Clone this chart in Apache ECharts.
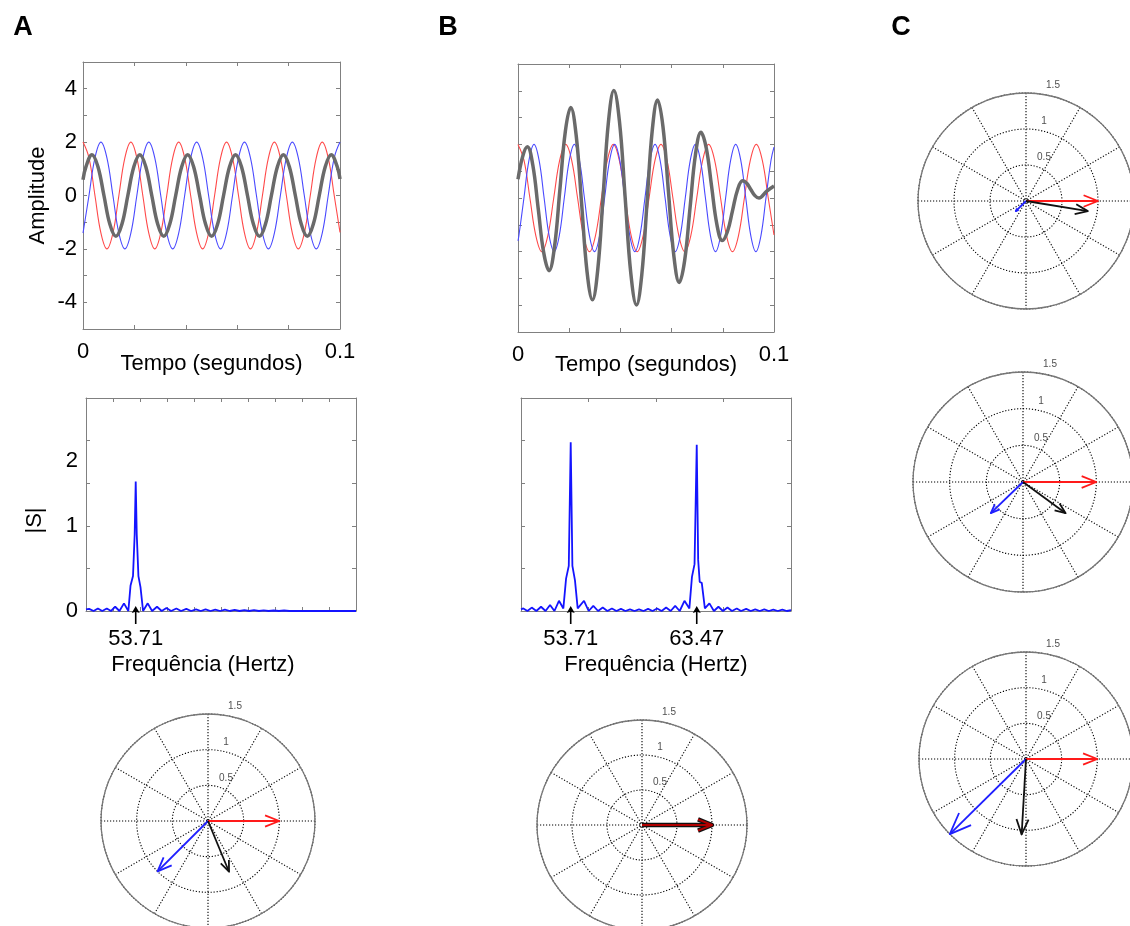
<!DOCTYPE html>
<html>
<head>
<meta charset="utf-8">
<script src="https://cdn.jsdelivr.net/npm/echarts@6/dist/echarts.min.js"></script>
<style>
    html, body { margin: 0; padding: 0; background: #fff; }
    #main { width: 1130px; height: 926px; }
</style>
</head>
<body>
<div id="main"></div>
<script>
    // ---- sinais no tempo (s) e amplitudes ----
    var t53 = [0, 0.00233, 0.00465, 0.00698, 0.00931, 0.01164, 0.01396, 0.01629, 0.01862, 0.02095, 0.02327,
        0.02560, 0.02793, 0.03025, 0.03258, 0.03491, 0.03724, 0.03956, 0.04189, 0.04422, 0.04655, 0.04887,
        0.05120, 0.05353, 0.05586, 0.05818, 0.06051, 0.06284, 0.06516, 0.06749, 0.06982, 0.07215, 0.07447,
        0.07680, 0.07913, 0.08146, 0.08378, 0.08611, 0.08844, 0.09076, 0.09309, 0.09542, 0.09775, 0.1];
    var vRed = [2, 1.41, 0, -1.41, -2, -1.41, 0, 1.41, 2, 1.41, 0, -1.41, -2, -1.41, 0, 1.41,
        2, 1.41, 0, -1.41, -2, -1.41, 0, 1.41, 2, 1.41, 0, -1.41, -2, -1.41, 0, 1.41,
        2, 1.41, 0, -1.41, -2, -1.41, 0, 1.41, 2, 1.41, 0, -1.38];
    var vBlueA = [-1.41, 0, 1.41, 2, 1.41, 0, -1.41, -2, -1.41, 0, 1.41, 2, 1.41, 0, -1.41, -2,
        -1.41, 0, 1.41, 2, 1.41, 0, -1.41, -2, -1.41, 0, 1.41, 2, 1.41, 0, -1.41, -2,
        -1.41, 0, 1.41, 2, 1.41, 0, -1.41, -2, -1.41, 0, 1.41, 2];
    var tGrayA = [0, 0.00116, 0.00349, 0.00582, 0.00815, 0.01047, 0.01280, 0.01513, 0.01745, 0.01978, 0.02211,
        0.02444, 0.02676, 0.02909, 0.03142, 0.03374, 0.03607, 0.03840, 0.04073, 0.04305, 0.04538, 0.04771,
        0.05004, 0.05236, 0.05469, 0.05702, 0.05935, 0.06167, 0.06400, 0.06633, 0.06866, 0.07098, 0.07331,
        0.07564, 0.07797, 0.08029, 0.08262, 0.08495, 0.08728, 0.08960, 0.09193, 0.09426, 0.09659, 0.09891, 0.1];
    var vGrayA = [0.59, 1.08, 1.53, 1.08, 0, -1.08, -1.53, -1.08, 0, 1.08, 1.53, 1.08, 0, -1.08, -1.53, -1.08, 0,
        1.08, 1.53, 1.08, 0, -1.08, -1.53, -1.08, 0, 1.08, 1.53, 1.08, 0, -1.08, -1.53, -1.08, 0,
        1.08, 1.53, 1.08, 0, -1.08, -1.53, -1.08, 0, 1.08, 1.53, 1.08, 0.62];
    var tBlueB = [0, 0.00035, 0.00232, 0.00429, 0.00626, 0.00823, 0.01020, 0.01217, 0.01414, 0.01611, 0.01808,
        0.02005, 0.02202, 0.02399, 0.02595, 0.02792, 0.02989, 0.03186, 0.03383, 0.03580, 0.03777, 0.03974,
        0.04171, 0.04368, 0.04565, 0.04762, 0.04959, 0.05156, 0.05353, 0.05550, 0.05746, 0.05943, 0.06140,
        0.06337, 0.06534, 0.06731, 0.06928, 0.07125, 0.07322, 0.07519, 0.07716, 0.07913, 0.08110, 0.08307,
        0.08504, 0.08701, 0.08898, 0.09095, 0.09292, 0.09489, 0.09686, 0.09883, 0.1];
    var vBlueB = [-1.6, -1.41, 0, 1.41, 2, 1.41, 0, -1.41, -2, -1.41, 0, 1.41, 2, 1.41, 0, -1.41, -2, -1.41,
        0, 1.41, 2, 1.41, 0, -1.41, -2, -1.41, 0, 1.41, 2, 1.41, 0, -1.41, -2, -1.41,
        0, 1.41, 2, 1.41, 0, -1.41, -2, -1.41, 0, 1.41, 2, 1.41, 0, -1.41, -2, -1.41, 0, 1.41, 1.9];
    var grayB = [[0, 0.7], [0.00183, 1.55], [0.00366, 1.91], [0.00578, 1.23], [0.0079, -0.4], [0.01002, -2.03],
        [0.01214, -2.71], [0.01426, -1.82], [0.01638, 0.33], [0.0185, 2.49], [0.02061, 3.38], [0.02273, 2.33],
        [0.02485, -0.21], [0.02697, -2.75], [0.02908, -3.8], [0.03117, -2.66], [0.03326, 0.1], [0.03535, 2.86],
        [0.03743, 4.01], [0.03965, 2.84], [0.04186, 0.01], [0.04408, -2.82], [0.04629, -3.99], [0.04835, -2.87],
        [0.0504, -0.17], [0.05246, 2.54], [0.05451, 3.66], [0.05663, 2.66], [0.05875, 0.26], [0.06087, -2.15],
        [0.06298, -3.15], [0.0651, -2.33], [0.06722, -0.35], [0.06934, 1.63], [0.07145, 2.45], [0.07354, 1.86],
        [0.07563, 0.43], [0.07772, -1.0], [0.0798, -1.59], [0.08179, -1.26], [0.08378, -0.48], [0.08577, 0.31],
        [0.08775, 0.64], [0.08935, 0.55], [0.09094, 0.32], [0.09254, 0.09], [0.09413, 0.0], [0.09707, 0.25],
        [0.1, 0.45]];

    // ---- espectros: [frequência (Hz), |S|] ----
    var specA = [[49.86, 0.02], [50.1, 0.025], [50.45, 0.0], [50.78, 0.03], [51.12, 0.0], [51.47, 0.03], [51.8, 0.0],
        [52.12, 0.05], [52.45, 0.0], [52.8, 0.09], [53.14, 0.0], [53.31, 0.3], [53.5, 0.41], [53.63, 0.9],
        [53.71, 1.52], [53.79, 0.9], [53.92, 0.41], [54.08, 0.28], [54.28, 0.0], [54.64, 0.09], [54.98, 0.0],
        [55.36, 0.05], [55.72, 0.0], [56.09, 0.035], [56.45, 0.0], [56.86, 0.03], [57.22, 0.0], [57.63, 0.025],
        [58.0, 0.0], [58.38, 0.02], [58.75, 0.0], [59.12, 0.02], [59.5, 0.0], [59.87, 0.015], [60.25, 0.0],
        [60.62, 0.015], [61.0, 0.0], [61.37, 0.012], [61.75, 0.0], [62.12, 0.01], [62.5, 0.0], [62.87, 0.01],
        [63.25, 0.0], [63.62, 0.008], [64.0, 0.0], [64.4, 0.006], [64.8, 0.0], [65.2, 0.006], [65.6, 0.0],
        [70.77, 0.0]];
    var specB = [[49.86, 0.02], [50.04, 0.03], [50.36, 0.0], [50.69, 0.04], [51.05, 0.0], [51.41, 0.05], [51.76, 0.0],
        [52.11, 0.07], [52.45, 0.0], [52.8, 0.12], [53.14, 0.03], [53.35, 0.38], [53.56, 0.53], [53.71, 1.98],
        [53.84, 0.53], [54.04, 0.36], [54.25, 0.03], [54.74, 0.12], [55.1, 0.0], [55.46, 0.06], [55.83, 0.0],
        [56.19, 0.04], [56.55, 0.0], [56.9, 0.03], [57.25, 0.0], [57.6, 0.025], [57.95, 0.0], [58.3, 0.02],
        [58.65, 0.0], [59.0, 0.02], [59.35, 0.0], [59.7, 0.025], [60.05, 0.0], [60.4, 0.03], [60.75, 0.0],
        [61.1, 0.04], [61.45, 0.0], [61.8, 0.06], [62.15, 0.0], [62.52, 0.12], [62.9, 0.03], [63.1, 0.4],
        [63.3, 0.55], [63.47, 1.95], [63.58, 0.6], [63.7, 0.34], [63.86, 0.33], [64.1, 0.03], [64.45, 0.09],
        [64.8, 0.0], [65.15, 0.05], [65.5, 0.0], [65.85, 0.04], [66.2, 0.0], [66.57, 0.03], [66.9, 0.0],
        [67.3, 0.025], [67.65, 0.0], [68.0, 0.02], [68.35, 0.0], [68.7, 0.02], [69.05, 0.0], [69.4, 0.015],
        [69.75, 0.0], [70.1, 0.015], [70.45, 0.0], [70.77, 0.01]];
    var peaksA = [53.71];
    var peaksB = [53.71, 63.47];

    // ---- marcas dos eixos ----
    var timeLabels = [0, 0.1];
    var ampLabels = [-4, -2, 0, 2, 4];
    var specRange = [49.86, 70.77];
    var specTicksA = [51.95, 54.04, 56.13, 58.23, 60.32, 62.41, 64.50, 66.59, 68.68];
    var specTicksB = [55.09, 60.32, 65.54];
    var specALabelVals = [0, 1, 1.76];
    var specALabelText = ['0', '1', '2'];

    // ---- fasores (raio, ângulo em graus) para A, B, C1, C2, C3 ----
    var redR = [1, 1, 1, 1, 1];
    var redAng = [0, 0, 0, 0, 0];
    var blueR = [1.0, 0, 0.2, 0.61, 1.5];
    var blueAng = [225, 0, 225, 224, 224.6];
    var blackR = [0.77, 1.0, 0.87, 0.72, 1.06];
    var blackAng = [292.5, 0, 350.7, 323.8, 266.7];
    var ringLabels = [0.5, 1, 1.5];

    var FONT = '"Liberation Sans", Arial, sans-serif';
    var BOX = '#808080';
    var ARROW = 'path://M4,0 L8,7 L4.8,6 L4.8,18 L3.2,18 L3.2,6 L0,7 Z';

    function zip(t, v) {
        return t.map(function (x, i) { return [x, v[i]]; });
    }

    function axis(grid, position, min, max, o) {
        o = o || {};
        var a = {
            type: 'value', gridIndex: grid, position: position, min: min, max: max,
            axisLine: {show: true, onZero: false, lineStyle: {color: BOX, width: 1}},
            axisTick: {show: true, inside: true, length: 4, lineStyle: {color: BOX}},
            axisLabel: {show: false},
            splitLine: {show: false}
        };
        if (o.interval) a.interval = o.interval;
        if (o.ticks) a.axisTick.customValues = o.ticks;
        if (o.labels) {
            a.axisLabel = {
                show: true, customValues: o.labels, color: '#000', fontSize: 22, fontFamily: FONT,
                margin: o.margin, formatter: o.formatter
            };
        }
        if (o.name) {
            a.name = o.name;
            a.nameLocation = 'middle';
            a.nameGap = o.nameGap;
            a.nameMoveOverlap = false;
            a.nameTextStyle = {color: '#000', fontSize: 22, fontFamily: FONT, padding: o.namePad || 0};
        }
        return a;
    }

    function arrowRenderer(color, width) {
        return function (params, api) {
            var r = api.value(0), ang = api.value(1);
            var o = api.coord([0, ang]).slice(0, 2);
            var p = api.coord([r, ang]).slice(0, 2);
            var dx = p[0] - o[0], dy = p[1] - o[1];
            var w1 = [o[0] + 0.8 * dx - 0.08 * dy, o[1] + 0.8 * dy + 0.08 * dx];
            var w2 = [o[0] + 0.8 * dx + 0.08 * dy, o[1] + 0.8 * dy - 0.08 * dx];
            var st = {stroke: color, lineWidth: width, fill: 'none', lineJoin: 'round'};
            return {
                type: 'group', children: [
                    {type: 'polyline', shape: {points: [o, p]}, style: st},
                    {type: 'polyline', shape: {points: [w1, p, w2]}, style: st}
                ]
            };
        };
    }

    var polarPos = [[208, 821, 107], [642, 825, 105], [1026, 201, 108], [1023, 482, 110], [1026, 759, 107]];
    var polars = [], angleAxes = [], radiusAxes = [], polarSeries = [];
    var dotted = {color: '#000', type: [1.2, 1.8], width: 1.1};
    polarPos.forEach(function (p, i) {
        polars.push({center: [p[0], p[1]], radius: p[2]});
        angleAxes.push({
            polarIndex: i, type: 'value', min: 0, max: 360, interval: 30, startAngle: 0, clockwise: false,
            axisLine: {show: true, lineStyle: {color: '#777', width: 1.3}},
            axisTick: {show: false}, axisLabel: {show: false},
            splitLine: {show: true, lineStyle: dotted}
        });
        radiusAxes.push({
            polarIndex: i, type: 'value', min: 0, max: 1.5, interval: 0.5,
            axisLine: {show: false}, axisTick: {show: false}, axisLabel: {show: false},
            splitLine: {show: true, lineStyle: dotted}
        });
        polarSeries.push({
            type: 'scatter', coordinateSystem: 'polar', polarIndex: i, symbolSize: 1, silent: true,
            itemStyle: {color: 'transparent'},
            data: ringLabels.map(function (r, k) {
                return {value: [r, 90], label: {offset: [k === 2 ? 27 : 18, 0]}};
            }),
            label: {
                show: true, position: 'top', distance: 2, fontSize: 10, color: '#222', fontFamily: FONT,
                formatter: function (q) { return q.value[0]; }
            }
        });
        if (i === 1) {
            // B: vermelho e preto sobrepostos
            polarSeries.push({type: 'custom', coordinateSystem: 'polar', polarIndex: i, silent: true, z: 5,
                data: [[blackR[i], blackAng[i]]], renderItem: arrowRenderer('#111', 4.5)});
            polarSeries.push({type: 'custom', coordinateSystem: 'polar', polarIndex: i, silent: true, z: 6,
                data: [[redR[i], redAng[i]]], renderItem: arrowRenderer('#b00000', 2)});
        } else {
            polarSeries.push({type: 'custom', coordinateSystem: 'polar', polarIndex: i, silent: true, z: 5,
                data: [[redR[i], redAng[i]]], renderItem: arrowRenderer('#ff1a1a', 1.8)});
            polarSeries.push({type: 'custom', coordinateSystem: 'polar', polarIndex: i, silent: true, z: 5,
                data: [[blueR[i], blueAng[i]]], renderItem: arrowRenderer('#1f1fff', 1.8)});
            polarSeries.push({type: 'custom', coordinateSystem: 'polar', polarIndex: i, silent: true, z: 5,
                data: [[blackR[i], blackAng[i]]], renderItem: arrowRenderer('#111', 1.8)});
        }
    });

    function timeLine(x, y, data, color, width, z) {
        return {
            type: 'line', xAxisIndex: x, yAxisIndex: y, data: data, smooth: 0.4, showSymbol: false, silent: true,
            lineStyle: {color: color, width: width}, z: z
        };
    }

    function specLine(x, y, data, peaks) {
        return {
            type: 'line', xAxisIndex: x, yAxisIndex: y, data: data, showSymbol: false, silent: true,
            lineStyle: {color: '#1414ff', width: 1.8},
            markPoint: {
                symbol: ARROW, symbolSize: [8, 18], symbolOffset: [0, 4], silent: true,
                itemStyle: {color: '#000'},
                label: {show: true, position: 'bottom', distance: 4, color: '#000', fontSize: 22, fontFamily: FONT,
                    formatter: '{c}'},
                data: peaks.map(function (f) { return {coord: [f, 0], value: f}; })
            }
        };
    }

    var chart = echarts.init(document.getElementById('main'));
    var option = {
        animation: false,
        backgroundColor: '#fff',
        textStyle: {fontFamily: FONT},
        grid: [
            {left: 83, top: 62, width: 257, height: 267},
            {left: 518, top: 64, width: 256, height: 268},
            {left: 86, top: 398, width: 270, height: 213},
            {left: 521, top: 398, width: 270, height: 213}
        ],
        xAxis: [
            axis(0, 'bottom', 0, 0.1, {interval: 0.02, labels: timeLabels, margin: 12,
                name: 'Tempo (segundos)', nameGap: 24}),
            axis(0, 'top', 0, 0.1, {interval: 0.02}),
            axis(1, 'bottom', 0, 0.1, {interval: 0.02, labels: timeLabels, margin: 12,
                name: 'Tempo (segundos)', nameGap: 22}),
            axis(1, 'top', 0, 0.1, {interval: 0.02}),
            axis(2, 'bottom', specRange[0], specRange[1], {ticks: specTicksA,
                name: 'Frequência (Hertz)', nameGap: 43, namePad: [0, 36, 0, 0]}),
            axis(2, 'top', specRange[0], specRange[1], {ticks: specTicksA}),
            axis(3, 'bottom', specRange[0], specRange[1], {ticks: specTicksB,
                name: 'Frequência (Hertz)', nameGap: 43}),
            axis(3, 'top', specRange[0], specRange[1], {ticks: specTicksB})
        ],
        yAxis: [
            axis(0, 'left', -5, 5, {interval: 1, labels: ampLabels, margin: 6, name: 'Amplitude', nameGap: 34}),
            axis(0, 'right', -5, 5, {interval: 1}),
            axis(1, 'left', -5, 5, {interval: 1}),
            axis(1, 'right', -5, 5, {interval: 1}),
            axis(2, 'left', 0, 2.5, {interval: 0.5, labels: specALabelVals, margin: 8,
                formatter: function (v) { return specALabelText[specALabelVals.indexOf(v)]; },
                name: '|S|', nameGap: 40, namePad: [0, 32, 0, 0]}),
            axis(2, 'right', 0, 2.5, {interval: 0.5}),
            axis(3, 'left', 0, 2.5, {interval: 0.5}),
            axis(3, 'right', 0, 2.5, {interval: 0.5})
        ],
        polar: polars,
        angleAxis: angleAxes,
        radiusAxis: radiusAxes,
        graphic: [
            {type: 'text', x: 23, y: 28, style: {text: 'A', font: 'bold 27px ' + FONT, fill: '#000', align: 'center', verticalAlign: 'middle'}},
            {type: 'text', x: 448, y: 28, style: {text: 'B', font: 'bold 27px ' + FONT, fill: '#000', align: 'center', verticalAlign: 'middle'}},
            {type: 'text', x: 901, y: 28, style: {text: 'C', font: 'bold 27px ' + FONT, fill: '#000', align: 'center', verticalAlign: 'middle'}}
        ],
        series: [
            timeLine(0, 0, zip(t53, vRed), '#ff4a4a', 1.1, 2),
            timeLine(0, 0, zip(t53, vBlueA), '#4a4aff', 1.1, 2),
            timeLine(0, 0, zip(tGrayA, vGrayA), '#6a6a6a', 3.5, 3),
            timeLine(2, 2, zip(t53, vRed), '#ff4a4a', 1.1, 2),
            timeLine(2, 2, zip(tBlueB, vBlueB), '#4a4aff', 1.1, 2),
            timeLine(2, 2, grayB, '#6a6a6a', 3.5, 3),
            specLine(4, 4, specA, peaksA),
            specLine(6, 6, specB, peaksB)
        ].concat(polarSeries)
    };
    chart.setOption(option);
</script>
</body>
</html>
